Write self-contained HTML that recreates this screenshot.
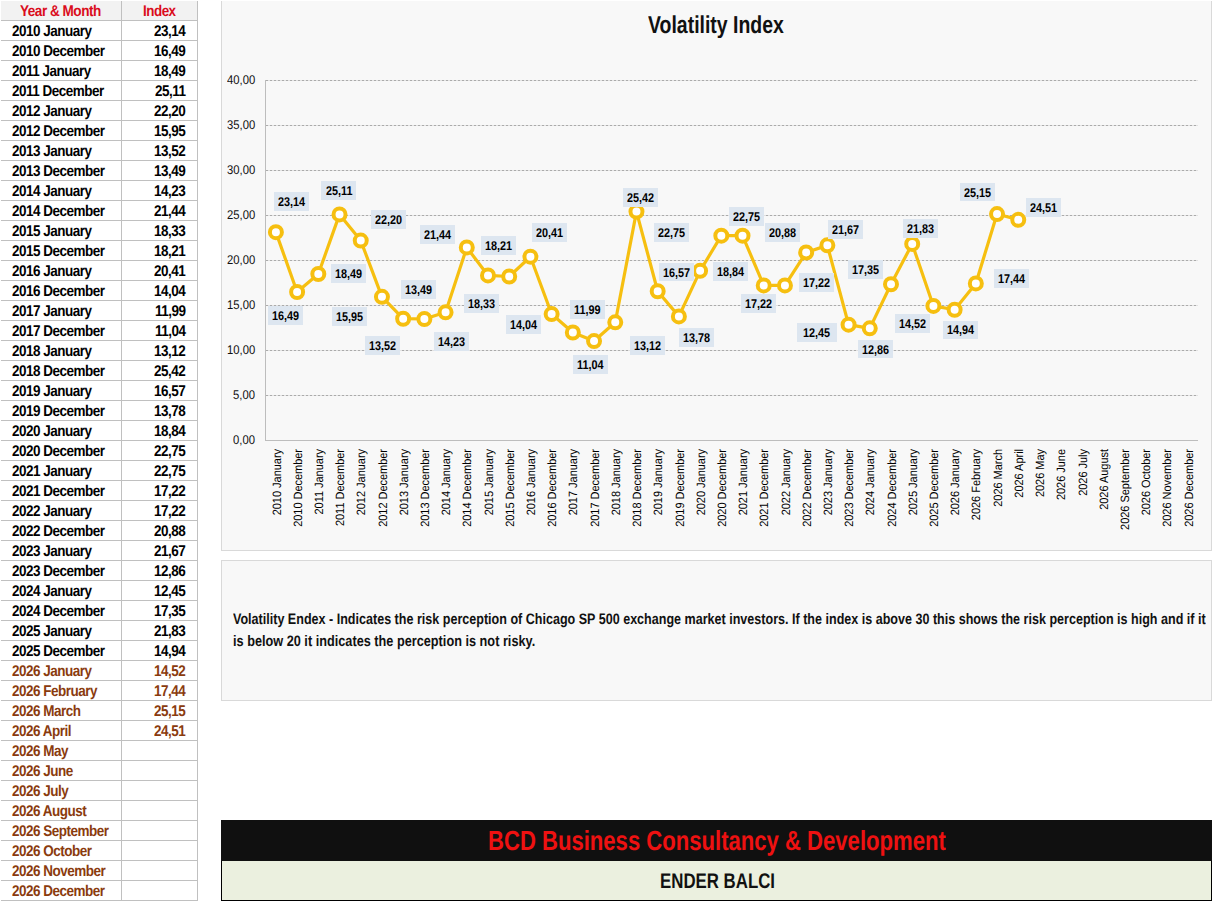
<!DOCTYPE html>
<html><head><meta charset="utf-8"><style>
html,body{margin:0;padding:0;background:#fff;}
body{width:1212px;height:901px;overflow:hidden;position:relative;font-family:"Liberation Sans",sans-serif;text-rendering:geometricPrecision;}
.a{position:absolute;white-space:nowrap;}
.t{position:absolute;white-space:nowrap;font-weight:bold;line-height:1;transform-origin:0 0;}
.hl{position:absolute;height:1px;background:#c0c0c0;}
.vl{position:absolute;width:1px;background:#c0c0c0;}
</style></head><body>

<div class="a" style="left:1px;top:1px;width:196px;height:19px;background:#f2f2f2"></div>
<div class="hl" style="left:1px;top:20px;width:197px"></div>
<div class="hl" style="left:1px;top:40px;width:197px"></div>
<div class="hl" style="left:1px;top:60px;width:197px"></div>
<div class="hl" style="left:1px;top:80px;width:197px"></div>
<div class="hl" style="left:1px;top:100px;width:197px"></div>
<div class="hl" style="left:1px;top:120px;width:197px"></div>
<div class="hl" style="left:1px;top:140px;width:197px"></div>
<div class="hl" style="left:1px;top:160px;width:197px"></div>
<div class="hl" style="left:1px;top:180px;width:197px"></div>
<div class="hl" style="left:1px;top:200px;width:197px"></div>
<div class="hl" style="left:1px;top:220px;width:197px"></div>
<div class="hl" style="left:1px;top:240px;width:197px"></div>
<div class="hl" style="left:1px;top:260px;width:197px"></div>
<div class="hl" style="left:1px;top:280px;width:197px"></div>
<div class="hl" style="left:1px;top:300px;width:197px"></div>
<div class="hl" style="left:1px;top:320px;width:197px"></div>
<div class="hl" style="left:1px;top:340px;width:197px"></div>
<div class="hl" style="left:1px;top:360px;width:197px"></div>
<div class="hl" style="left:1px;top:380px;width:197px"></div>
<div class="hl" style="left:1px;top:400px;width:197px"></div>
<div class="hl" style="left:1px;top:420px;width:197px"></div>
<div class="hl" style="left:1px;top:440px;width:197px"></div>
<div class="hl" style="left:1px;top:460px;width:197px"></div>
<div class="hl" style="left:1px;top:480px;width:197px"></div>
<div class="hl" style="left:1px;top:500px;width:197px"></div>
<div class="hl" style="left:1px;top:520px;width:197px"></div>
<div class="hl" style="left:1px;top:540px;width:197px"></div>
<div class="hl" style="left:1px;top:560px;width:197px"></div>
<div class="hl" style="left:1px;top:580px;width:197px"></div>
<div class="hl" style="left:1px;top:600px;width:197px"></div>
<div class="hl" style="left:1px;top:620px;width:197px"></div>
<div class="hl" style="left:1px;top:640px;width:197px"></div>
<div class="hl" style="left:1px;top:660px;width:197px"></div>
<div class="hl" style="left:1px;top:680px;width:197px"></div>
<div class="hl" style="left:1px;top:700px;width:197px"></div>
<div class="hl" style="left:1px;top:720px;width:197px"></div>
<div class="hl" style="left:1px;top:740px;width:197px"></div>
<div class="hl" style="left:1px;top:760px;width:197px"></div>
<div class="hl" style="left:1px;top:780px;width:197px"></div>
<div class="hl" style="left:1px;top:800px;width:197px"></div>
<div class="hl" style="left:1px;top:820px;width:197px"></div>
<div class="hl" style="left:1px;top:840px;width:197px"></div>
<div class="hl" style="left:1px;top:860px;width:197px"></div>
<div class="hl" style="left:1px;top:880px;width:197px"></div>
<div class="hl" style="left:1px;top:900px;width:197px"></div>
<div class="vl" style="left:121px;top:1px;height:900px"></div>
<div class="vl" style="left:197px;top:1px;height:900px"></div>
<div class="t" style="left:20.41px;top:4.19px;font-size:15.5px;color:#da0c1c;font-weight:bold;letter-spacing:-0.56px;transform:scaleX(0.875)">Year &amp; Month</div>
<div class="t" style="left:143.30px;top:4.19px;font-size:15.5px;color:#da0c1c;font-weight:bold;letter-spacing:-0.56px;transform:scaleX(0.865)">Index</div>
<div class="t" style="left:12.10px;top:23.69px;font-size:15.5px;color:#000;font-weight:bold;letter-spacing:-0.56px;transform:scaleX(0.87);">2010 January</div>
<div class="t" style="left:154.19px;top:23.69px;font-size:15.5px;color:#000;font-weight:bold;letter-spacing:-0.56px;transform:scaleX(0.87)">23,14</div>
<div class="t" style="left:12.10px;top:43.69px;font-size:15.5px;color:#000;font-weight:bold;letter-spacing:-0.56px;transform:scaleX(0.87);">2010 December</div>
<div class="t" style="left:154.19px;top:43.69px;font-size:15.5px;color:#000;font-weight:bold;letter-spacing:-0.56px;transform:scaleX(0.87)">16,49</div>
<div class="t" style="left:12.10px;top:63.69px;font-size:15.5px;color:#000;font-weight:bold;letter-spacing:-0.56px;transform:scaleX(0.87);">2011 January</div>
<div class="t" style="left:154.19px;top:63.69px;font-size:15.5px;color:#000;font-weight:bold;letter-spacing:-0.56px;transform:scaleX(0.87)">18,49</div>
<div class="t" style="left:12.10px;top:83.69px;font-size:15.5px;color:#000;font-weight:bold;letter-spacing:-0.56px;transform:scaleX(0.87);">2011 December</div>
<div class="t" style="left:154.93px;top:83.69px;font-size:15.5px;color:#000;font-weight:bold;letter-spacing:-0.56px;transform:scaleX(0.87)">25,11</div>
<div class="t" style="left:12.10px;top:103.69px;font-size:15.5px;color:#000;font-weight:bold;letter-spacing:-0.56px;transform:scaleX(0.87);">2012 January</div>
<div class="t" style="left:154.19px;top:103.69px;font-size:15.5px;color:#000;font-weight:bold;letter-spacing:-0.56px;transform:scaleX(0.87)">22,20</div>
<div class="t" style="left:12.10px;top:123.69px;font-size:15.5px;color:#000;font-weight:bold;letter-spacing:-0.56px;transform:scaleX(0.87);">2012 December</div>
<div class="t" style="left:154.19px;top:123.69px;font-size:15.5px;color:#000;font-weight:bold;letter-spacing:-0.56px;transform:scaleX(0.87)">15,95</div>
<div class="t" style="left:12.10px;top:143.69px;font-size:15.5px;color:#000;font-weight:bold;letter-spacing:-0.56px;transform:scaleX(0.87);">2013 January</div>
<div class="t" style="left:154.19px;top:143.69px;font-size:15.5px;color:#000;font-weight:bold;letter-spacing:-0.56px;transform:scaleX(0.87)">13,52</div>
<div class="t" style="left:12.10px;top:163.69px;font-size:15.5px;color:#000;font-weight:bold;letter-spacing:-0.56px;transform:scaleX(0.87);">2013 December</div>
<div class="t" style="left:154.19px;top:163.69px;font-size:15.5px;color:#000;font-weight:bold;letter-spacing:-0.56px;transform:scaleX(0.87)">13,49</div>
<div class="t" style="left:12.10px;top:183.69px;font-size:15.5px;color:#000;font-weight:bold;letter-spacing:-0.56px;transform:scaleX(0.87);">2014 January</div>
<div class="t" style="left:154.19px;top:183.69px;font-size:15.5px;color:#000;font-weight:bold;letter-spacing:-0.56px;transform:scaleX(0.87)">14,23</div>
<div class="t" style="left:12.10px;top:203.69px;font-size:15.5px;color:#000;font-weight:bold;letter-spacing:-0.56px;transform:scaleX(0.87);">2014 December</div>
<div class="t" style="left:154.19px;top:203.69px;font-size:15.5px;color:#000;font-weight:bold;letter-spacing:-0.56px;transform:scaleX(0.87)">21,44</div>
<div class="t" style="left:12.10px;top:223.69px;font-size:15.5px;color:#000;font-weight:bold;letter-spacing:-0.56px;transform:scaleX(0.87);">2015 January</div>
<div class="t" style="left:154.19px;top:223.69px;font-size:15.5px;color:#000;font-weight:bold;letter-spacing:-0.56px;transform:scaleX(0.87)">18,33</div>
<div class="t" style="left:12.10px;top:243.69px;font-size:15.5px;color:#000;font-weight:bold;letter-spacing:-0.56px;transform:scaleX(0.87);">2015 December</div>
<div class="t" style="left:154.19px;top:243.69px;font-size:15.5px;color:#000;font-weight:bold;letter-spacing:-0.56px;transform:scaleX(0.87)">18,21</div>
<div class="t" style="left:12.10px;top:263.69px;font-size:15.5px;color:#000;font-weight:bold;letter-spacing:-0.56px;transform:scaleX(0.87);">2016 January</div>
<div class="t" style="left:154.19px;top:263.69px;font-size:15.5px;color:#000;font-weight:bold;letter-spacing:-0.56px;transform:scaleX(0.87)">20,41</div>
<div class="t" style="left:12.10px;top:283.69px;font-size:15.5px;color:#000;font-weight:bold;letter-spacing:-0.56px;transform:scaleX(0.87);">2016 December</div>
<div class="t" style="left:154.19px;top:283.69px;font-size:15.5px;color:#000;font-weight:bold;letter-spacing:-0.56px;transform:scaleX(0.87)">14,04</div>
<div class="t" style="left:12.10px;top:303.69px;font-size:15.5px;color:#000;font-weight:bold;letter-spacing:-0.56px;transform:scaleX(0.87);">2017 January</div>
<div class="t" style="left:154.93px;top:303.69px;font-size:15.5px;color:#000;font-weight:bold;letter-spacing:-0.56px;transform:scaleX(0.87)">11,99</div>
<div class="t" style="left:12.10px;top:323.69px;font-size:15.5px;color:#000;font-weight:bold;letter-spacing:-0.56px;transform:scaleX(0.87);">2017 December</div>
<div class="t" style="left:154.93px;top:323.69px;font-size:15.5px;color:#000;font-weight:bold;letter-spacing:-0.56px;transform:scaleX(0.87)">11,04</div>
<div class="t" style="left:12.10px;top:343.69px;font-size:15.5px;color:#000;font-weight:bold;letter-spacing:-0.56px;transform:scaleX(0.87);">2018 January</div>
<div class="t" style="left:154.19px;top:343.69px;font-size:15.5px;color:#000;font-weight:bold;letter-spacing:-0.56px;transform:scaleX(0.87)">13,12</div>
<div class="t" style="left:12.10px;top:363.69px;font-size:15.5px;color:#000;font-weight:bold;letter-spacing:-0.56px;transform:scaleX(0.87);">2018 December</div>
<div class="t" style="left:154.19px;top:363.69px;font-size:15.5px;color:#000;font-weight:bold;letter-spacing:-0.56px;transform:scaleX(0.87)">25,42</div>
<div class="t" style="left:12.10px;top:383.69px;font-size:15.5px;color:#000;font-weight:bold;letter-spacing:-0.56px;transform:scaleX(0.87);">2019 January</div>
<div class="t" style="left:154.19px;top:383.69px;font-size:15.5px;color:#000;font-weight:bold;letter-spacing:-0.56px;transform:scaleX(0.87)">16,57</div>
<div class="t" style="left:12.10px;top:403.69px;font-size:15.5px;color:#000;font-weight:bold;letter-spacing:-0.56px;transform:scaleX(0.87);">2019 December</div>
<div class="t" style="left:154.19px;top:403.69px;font-size:15.5px;color:#000;font-weight:bold;letter-spacing:-0.56px;transform:scaleX(0.87)">13,78</div>
<div class="t" style="left:12.10px;top:423.69px;font-size:15.5px;color:#000;font-weight:bold;letter-spacing:-0.56px;transform:scaleX(0.87);">2020 January</div>
<div class="t" style="left:154.19px;top:423.69px;font-size:15.5px;color:#000;font-weight:bold;letter-spacing:-0.56px;transform:scaleX(0.87)">18,84</div>
<div class="t" style="left:12.10px;top:443.69px;font-size:15.5px;color:#000;font-weight:bold;letter-spacing:-0.56px;transform:scaleX(0.87);">2020 December</div>
<div class="t" style="left:154.19px;top:443.69px;font-size:15.5px;color:#000;font-weight:bold;letter-spacing:-0.56px;transform:scaleX(0.87)">22,75</div>
<div class="t" style="left:12.10px;top:463.69px;font-size:15.5px;color:#000;font-weight:bold;letter-spacing:-0.56px;transform:scaleX(0.87);">2021 January</div>
<div class="t" style="left:154.19px;top:463.69px;font-size:15.5px;color:#000;font-weight:bold;letter-spacing:-0.56px;transform:scaleX(0.87)">22,75</div>
<div class="t" style="left:12.10px;top:483.69px;font-size:15.5px;color:#000;font-weight:bold;letter-spacing:-0.56px;transform:scaleX(0.87);">2021 December</div>
<div class="t" style="left:154.19px;top:483.69px;font-size:15.5px;color:#000;font-weight:bold;letter-spacing:-0.56px;transform:scaleX(0.87)">17,22</div>
<div class="t" style="left:12.10px;top:503.69px;font-size:15.5px;color:#000;font-weight:bold;letter-spacing:-0.56px;transform:scaleX(0.87);">2022 January</div>
<div class="t" style="left:154.19px;top:503.69px;font-size:15.5px;color:#000;font-weight:bold;letter-spacing:-0.56px;transform:scaleX(0.87)">17,22</div>
<div class="t" style="left:12.10px;top:523.69px;font-size:15.5px;color:#000;font-weight:bold;letter-spacing:-0.56px;transform:scaleX(0.87);">2022 December</div>
<div class="t" style="left:154.19px;top:523.69px;font-size:15.5px;color:#000;font-weight:bold;letter-spacing:-0.56px;transform:scaleX(0.87)">20,88</div>
<div class="t" style="left:12.10px;top:543.69px;font-size:15.5px;color:#000;font-weight:bold;letter-spacing:-0.56px;transform:scaleX(0.87);">2023 January</div>
<div class="t" style="left:154.19px;top:543.69px;font-size:15.5px;color:#000;font-weight:bold;letter-spacing:-0.56px;transform:scaleX(0.87)">21,67</div>
<div class="t" style="left:12.10px;top:563.69px;font-size:15.5px;color:#000;font-weight:bold;letter-spacing:-0.56px;transform:scaleX(0.87);">2023 December</div>
<div class="t" style="left:154.19px;top:563.69px;font-size:15.5px;color:#000;font-weight:bold;letter-spacing:-0.56px;transform:scaleX(0.87)">12,86</div>
<div class="t" style="left:12.10px;top:583.69px;font-size:15.5px;color:#000;font-weight:bold;letter-spacing:-0.56px;transform:scaleX(0.87);">2024 January</div>
<div class="t" style="left:154.19px;top:583.69px;font-size:15.5px;color:#000;font-weight:bold;letter-spacing:-0.56px;transform:scaleX(0.87)">12,45</div>
<div class="t" style="left:12.10px;top:603.69px;font-size:15.5px;color:#000;font-weight:bold;letter-spacing:-0.56px;transform:scaleX(0.87);">2024 December</div>
<div class="t" style="left:154.19px;top:603.69px;font-size:15.5px;color:#000;font-weight:bold;letter-spacing:-0.56px;transform:scaleX(0.87)">17,35</div>
<div class="t" style="left:12.10px;top:623.69px;font-size:15.5px;color:#000;font-weight:bold;letter-spacing:-0.56px;transform:scaleX(0.87);">2025 January</div>
<div class="t" style="left:154.19px;top:623.69px;font-size:15.5px;color:#000;font-weight:bold;letter-spacing:-0.56px;transform:scaleX(0.87)">21,83</div>
<div class="t" style="left:12.10px;top:643.69px;font-size:15.5px;color:#000;font-weight:bold;letter-spacing:-0.56px;transform:scaleX(0.87);">2025 December</div>
<div class="t" style="left:154.19px;top:643.69px;font-size:15.5px;color:#000;font-weight:bold;letter-spacing:-0.56px;transform:scaleX(0.87)">14,94</div>
<div class="t" style="left:12.10px;top:663.69px;font-size:15.5px;color:#8a3b0e;font-weight:bold;letter-spacing:-0.56px;transform:scaleX(0.87);">2026 January</div>
<div class="t" style="left:154.19px;top:663.69px;font-size:15.5px;color:#8a3b0e;font-weight:bold;letter-spacing:-0.56px;transform:scaleX(0.87)">14,52</div>
<div class="t" style="left:12.10px;top:683.69px;font-size:15.5px;color:#8a3b0e;font-weight:bold;letter-spacing:-0.56px;transform:scaleX(0.87);">2026 February</div>
<div class="t" style="left:154.19px;top:683.69px;font-size:15.5px;color:#8a3b0e;font-weight:bold;letter-spacing:-0.56px;transform:scaleX(0.87)">17,44</div>
<div class="t" style="left:12.10px;top:703.69px;font-size:15.5px;color:#8a3b0e;font-weight:bold;letter-spacing:-0.56px;transform:scaleX(0.87);">2026 March</div>
<div class="t" style="left:154.19px;top:703.69px;font-size:15.5px;color:#8a3b0e;font-weight:bold;letter-spacing:-0.56px;transform:scaleX(0.87)">25,15</div>
<div class="t" style="left:12.10px;top:723.69px;font-size:15.5px;color:#8a3b0e;font-weight:bold;letter-spacing:-0.56px;transform:scaleX(0.87);">2026 April</div>
<div class="t" style="left:154.19px;top:723.69px;font-size:15.5px;color:#8a3b0e;font-weight:bold;letter-spacing:-0.56px;transform:scaleX(0.87)">24,51</div>
<div class="t" style="left:12.10px;top:743.69px;font-size:15.5px;color:#8a3b0e;font-weight:bold;letter-spacing:-0.56px;transform:scaleX(0.87);">2026 May</div>
<div class="t" style="left:12.10px;top:763.69px;font-size:15.5px;color:#8a3b0e;font-weight:bold;letter-spacing:-0.56px;transform:scaleX(0.87);">2026 June</div>
<div class="t" style="left:12.10px;top:783.69px;font-size:15.5px;color:#8a3b0e;font-weight:bold;letter-spacing:-0.56px;transform:scaleX(0.87);">2026 July</div>
<div class="t" style="left:12.10px;top:803.69px;font-size:15.5px;color:#8a3b0e;font-weight:bold;letter-spacing:-0.56px;transform:scaleX(0.87);">2026 August</div>
<div class="t" style="left:12.10px;top:823.69px;font-size:15.5px;color:#8a3b0e;font-weight:bold;letter-spacing:-0.56px;transform:scaleX(0.87);">2026 September</div>
<div class="t" style="left:12.10px;top:843.69px;font-size:15.5px;color:#8a3b0e;font-weight:bold;letter-spacing:-0.56px;transform:scaleX(0.87);">2026 October</div>
<div class="t" style="left:12.10px;top:863.69px;font-size:15.5px;color:#8a3b0e;font-weight:bold;letter-spacing:-0.56px;transform:scaleX(0.87);">2026 November</div>
<div class="t" style="left:12.10px;top:883.69px;font-size:15.5px;color:#8a3b0e;font-weight:bold;letter-spacing:-0.56px;transform:scaleX(0.87);">2026 December</div>
<div class="a" style="box-sizing:border-box;left:221px;top:1px;width:991px;height:550px;background:#f8f8f8;border:1px solid #d9d9d9;border-top:none"></div>
<div class="a" style="box-sizing:border-box;left:221px;top:560px;width:991px;height:141px;background:#f8f8f8;border:1px solid #d9d9d9"></div>
<svg class="a" style="left:0;top:0" width="1212" height="901">
<line x1="266" y1="395.5" x2="1198" y2="395.5" stroke="#e2e2e2" stroke-width="1"/>
<line x1="266" y1="395.5" x2="1198" y2="395.5" stroke="#ababab" stroke-width="1" stroke-dasharray="2,2"/>
<line x1="266" y1="350.5" x2="1198" y2="350.5" stroke="#e2e2e2" stroke-width="1"/>
<line x1="266" y1="350.5" x2="1198" y2="350.5" stroke="#ababab" stroke-width="1" stroke-dasharray="2,2"/>
<line x1="266" y1="305.5" x2="1198" y2="305.5" stroke="#e2e2e2" stroke-width="1"/>
<line x1="266" y1="305.5" x2="1198" y2="305.5" stroke="#ababab" stroke-width="1" stroke-dasharray="2,2"/>
<line x1="266" y1="260.5" x2="1198" y2="260.5" stroke="#e2e2e2" stroke-width="1"/>
<line x1="266" y1="260.5" x2="1198" y2="260.5" stroke="#ababab" stroke-width="1" stroke-dasharray="2,2"/>
<line x1="266" y1="215.5" x2="1198" y2="215.5" stroke="#e2e2e2" stroke-width="1"/>
<line x1="266" y1="215.5" x2="1198" y2="215.5" stroke="#ababab" stroke-width="1" stroke-dasharray="2,2"/>
<line x1="266" y1="170.5" x2="1198" y2="170.5" stroke="#e2e2e2" stroke-width="1"/>
<line x1="266" y1="170.5" x2="1198" y2="170.5" stroke="#ababab" stroke-width="1" stroke-dasharray="2,2"/>
<line x1="266" y1="125.5" x2="1198" y2="125.5" stroke="#e2e2e2" stroke-width="1"/>
<line x1="266" y1="125.5" x2="1198" y2="125.5" stroke="#ababab" stroke-width="1" stroke-dasharray="2,2"/>
<line x1="266" y1="80.5" x2="1198" y2="80.5" stroke="#e2e2e2" stroke-width="1"/>
<line x1="266" y1="80.5" x2="1198" y2="80.5" stroke="#ababab" stroke-width="1" stroke-dasharray="2,2"/>
<line x1="265.5" y1="80" x2="265.5" y2="440.5" stroke="#bdbdbd" stroke-width="1"/>
<line x1="265" y1="440.5" x2="1198" y2="440.5" stroke="#bdbdbd" stroke-width="1"/>
<polyline fill="none" stroke="#f6bf10" stroke-width="3.2" stroke-linejoin="round" points="275.90,232.14 297.11,291.99 318.32,273.99 339.53,214.41 360.74,240.60 381.95,296.85 403.16,318.72 424.37,318.99 445.58,312.33 466.79,247.44 488.00,275.43 509.21,276.51 530.42,256.71 551.63,314.04 572.84,332.49 594.05,341.04 615.26,322.32 636.47,211.62 657.68,291.27 678.89,316.38 700.10,270.84 721.31,235.65 742.52,235.65 763.73,285.42 784.94,285.42 806.15,252.48 827.36,245.37 848.57,324.66 869.78,328.35 890.99,284.25 912.20,243.93 933.41,305.94 954.62,309.72 975.83,283.44 997.04,214.05 1018.25,219.81"/>
<circle cx="275.90" cy="232.14" r="6" fill="#fff" stroke="#f6bf10" stroke-width="4"/>
<circle cx="297.11" cy="291.99" r="6" fill="#fff" stroke="#f6bf10" stroke-width="4"/>
<circle cx="318.32" cy="273.99" r="6" fill="#fff" stroke="#f6bf10" stroke-width="4"/>
<circle cx="339.53" cy="214.41" r="6" fill="#fff" stroke="#f6bf10" stroke-width="4"/>
<circle cx="360.74" cy="240.60" r="6" fill="#fff" stroke="#f6bf10" stroke-width="4"/>
<circle cx="381.95" cy="296.85" r="6" fill="#fff" stroke="#f6bf10" stroke-width="4"/>
<circle cx="403.16" cy="318.72" r="6" fill="#fff" stroke="#f6bf10" stroke-width="4"/>
<circle cx="424.37" cy="318.99" r="6" fill="#fff" stroke="#f6bf10" stroke-width="4"/>
<circle cx="445.58" cy="312.33" r="6" fill="#fff" stroke="#f6bf10" stroke-width="4"/>
<circle cx="466.79" cy="247.44" r="6" fill="#fff" stroke="#f6bf10" stroke-width="4"/>
<circle cx="488.00" cy="275.43" r="6" fill="#fff" stroke="#f6bf10" stroke-width="4"/>
<circle cx="509.21" cy="276.51" r="6" fill="#fff" stroke="#f6bf10" stroke-width="4"/>
<circle cx="530.42" cy="256.71" r="6" fill="#fff" stroke="#f6bf10" stroke-width="4"/>
<circle cx="551.63" cy="314.04" r="6" fill="#fff" stroke="#f6bf10" stroke-width="4"/>
<circle cx="572.84" cy="332.49" r="6" fill="#fff" stroke="#f6bf10" stroke-width="4"/>
<circle cx="594.05" cy="341.04" r="6" fill="#fff" stroke="#f6bf10" stroke-width="4"/>
<circle cx="615.26" cy="322.32" r="6" fill="#fff" stroke="#f6bf10" stroke-width="4"/>
<circle cx="636.47" cy="211.62" r="6" fill="#fff" stroke="#f6bf10" stroke-width="4"/>
<circle cx="657.68" cy="291.27" r="6" fill="#fff" stroke="#f6bf10" stroke-width="4"/>
<circle cx="678.89" cy="316.38" r="6" fill="#fff" stroke="#f6bf10" stroke-width="4"/>
<circle cx="700.10" cy="270.84" r="6" fill="#fff" stroke="#f6bf10" stroke-width="4"/>
<circle cx="721.31" cy="235.65" r="6" fill="#fff" stroke="#f6bf10" stroke-width="4"/>
<circle cx="742.52" cy="235.65" r="6" fill="#fff" stroke="#f6bf10" stroke-width="4"/>
<circle cx="763.73" cy="285.42" r="6" fill="#fff" stroke="#f6bf10" stroke-width="4"/>
<circle cx="784.94" cy="285.42" r="6" fill="#fff" stroke="#f6bf10" stroke-width="4"/>
<circle cx="806.15" cy="252.48" r="6" fill="#fff" stroke="#f6bf10" stroke-width="4"/>
<circle cx="827.36" cy="245.37" r="6" fill="#fff" stroke="#f6bf10" stroke-width="4"/>
<circle cx="848.57" cy="324.66" r="6" fill="#fff" stroke="#f6bf10" stroke-width="4"/>
<circle cx="869.78" cy="328.35" r="6" fill="#fff" stroke="#f6bf10" stroke-width="4"/>
<circle cx="890.99" cy="284.25" r="6" fill="#fff" stroke="#f6bf10" stroke-width="4"/>
<circle cx="912.20" cy="243.93" r="6" fill="#fff" stroke="#f6bf10" stroke-width="4"/>
<circle cx="933.41" cy="305.94" r="6" fill="#fff" stroke="#f6bf10" stroke-width="4"/>
<circle cx="954.62" cy="309.72" r="6" fill="#fff" stroke="#f6bf10" stroke-width="4"/>
<circle cx="975.83" cy="283.44" r="6" fill="#fff" stroke="#f6bf10" stroke-width="4"/>
<circle cx="997.04" cy="214.05" r="6" fill="#fff" stroke="#f6bf10" stroke-width="4"/>
<circle cx="1018.25" cy="219.81" r="6" fill="#fff" stroke="#f6bf10" stroke-width="4"/>
</svg>
<div class="t" style="left:232.97px;top:434.24px;font-size:12.6px;color:#111;font-weight:normal;transform:scaleX(0.895)">0,00</div>
<div class="t" style="left:232.97px;top:389.24px;font-size:12.6px;color:#111;font-weight:normal;transform:scaleX(0.895)">5,00</div>
<div class="t" style="left:226.66px;top:344.24px;font-size:12.6px;color:#111;font-weight:normal;transform:scaleX(0.895)">10,00</div>
<div class="t" style="left:226.66px;top:299.24px;font-size:12.6px;color:#111;font-weight:normal;transform:scaleX(0.895)">15,00</div>
<div class="t" style="left:226.66px;top:254.24px;font-size:12.6px;color:#111;font-weight:normal;transform:scaleX(0.895)">20,00</div>
<div class="t" style="left:226.66px;top:209.24px;font-size:12.6px;color:#111;font-weight:normal;transform:scaleX(0.895)">25,00</div>
<div class="t" style="left:226.66px;top:164.24px;font-size:12.6px;color:#111;font-weight:normal;transform:scaleX(0.895)">30,00</div>
<div class="t" style="left:226.66px;top:119.24px;font-size:12.6px;color:#111;font-weight:normal;transform:scaleX(0.895)">35,00</div>
<div class="t" style="left:226.66px;top:74.24px;font-size:12.6px;color:#111;font-weight:normal;transform:scaleX(0.895)">40,00</div>
<div class="a" style="left:270.54px;top:449px;font-size:12px;line-height:1;color:#000;transform-origin:0 0;transform:rotate(-90deg) translateX(-66.32px) scaleX(0.912)">2010 January</div>
<div class="a" style="left:291.75px;top:449px;font-size:12px;line-height:1;color:#000;transform-origin:0 0;transform:rotate(-90deg) translateX(-77.87px) scaleX(0.912)">2010 December</div>
<div class="a" style="left:312.96px;top:449px;font-size:12px;line-height:1;color:#000;transform-origin:0 0;transform:rotate(-90deg) translateX(-65.51px) scaleX(0.912)">2011 January</div>
<div class="a" style="left:334.17px;top:449px;font-size:12px;line-height:1;color:#000;transform-origin:0 0;transform:rotate(-90deg) translateX(-77.06px) scaleX(0.912)">2011 December</div>
<div class="a" style="left:355.38px;top:449px;font-size:12px;line-height:1;color:#000;transform-origin:0 0;transform:rotate(-90deg) translateX(-66.32px) scaleX(0.912)">2012 January</div>
<div class="a" style="left:376.59px;top:449px;font-size:12px;line-height:1;color:#000;transform-origin:0 0;transform:rotate(-90deg) translateX(-77.87px) scaleX(0.912)">2012 December</div>
<div class="a" style="left:397.80px;top:449px;font-size:12px;line-height:1;color:#000;transform-origin:0 0;transform:rotate(-90deg) translateX(-66.32px) scaleX(0.912)">2013 January</div>
<div class="a" style="left:419.01px;top:449px;font-size:12px;line-height:1;color:#000;transform-origin:0 0;transform:rotate(-90deg) translateX(-77.87px) scaleX(0.912)">2013 December</div>
<div class="a" style="left:440.22px;top:449px;font-size:12px;line-height:1;color:#000;transform-origin:0 0;transform:rotate(-90deg) translateX(-66.32px) scaleX(0.912)">2014 January</div>
<div class="a" style="left:461.43px;top:449px;font-size:12px;line-height:1;color:#000;transform-origin:0 0;transform:rotate(-90deg) translateX(-77.87px) scaleX(0.912)">2014 December</div>
<div class="a" style="left:482.64px;top:449px;font-size:12px;line-height:1;color:#000;transform-origin:0 0;transform:rotate(-90deg) translateX(-66.32px) scaleX(0.912)">2015 January</div>
<div class="a" style="left:503.85px;top:449px;font-size:12px;line-height:1;color:#000;transform-origin:0 0;transform:rotate(-90deg) translateX(-77.87px) scaleX(0.912)">2015 December</div>
<div class="a" style="left:525.06px;top:449px;font-size:12px;line-height:1;color:#000;transform-origin:0 0;transform:rotate(-90deg) translateX(-66.32px) scaleX(0.912)">2016 January</div>
<div class="a" style="left:546.27px;top:449px;font-size:12px;line-height:1;color:#000;transform-origin:0 0;transform:rotate(-90deg) translateX(-77.87px) scaleX(0.912)">2016 December</div>
<div class="a" style="left:567.48px;top:449px;font-size:12px;line-height:1;color:#000;transform-origin:0 0;transform:rotate(-90deg) translateX(-66.32px) scaleX(0.912)">2017 January</div>
<div class="a" style="left:588.69px;top:449px;font-size:12px;line-height:1;color:#000;transform-origin:0 0;transform:rotate(-90deg) translateX(-77.87px) scaleX(0.912)">2017 December</div>
<div class="a" style="left:609.90px;top:449px;font-size:12px;line-height:1;color:#000;transform-origin:0 0;transform:rotate(-90deg) translateX(-66.32px) scaleX(0.912)">2018 January</div>
<div class="a" style="left:631.11px;top:449px;font-size:12px;line-height:1;color:#000;transform-origin:0 0;transform:rotate(-90deg) translateX(-77.87px) scaleX(0.912)">2018 December</div>
<div class="a" style="left:652.32px;top:449px;font-size:12px;line-height:1;color:#000;transform-origin:0 0;transform:rotate(-90deg) translateX(-66.32px) scaleX(0.912)">2019 January</div>
<div class="a" style="left:673.53px;top:449px;font-size:12px;line-height:1;color:#000;transform-origin:0 0;transform:rotate(-90deg) translateX(-77.87px) scaleX(0.912)">2019 December</div>
<div class="a" style="left:694.74px;top:449px;font-size:12px;line-height:1;color:#000;transform-origin:0 0;transform:rotate(-90deg) translateX(-66.32px) scaleX(0.912)">2020 January</div>
<div class="a" style="left:715.95px;top:449px;font-size:12px;line-height:1;color:#000;transform-origin:0 0;transform:rotate(-90deg) translateX(-77.87px) scaleX(0.912)">2020 December</div>
<div class="a" style="left:737.16px;top:449px;font-size:12px;line-height:1;color:#000;transform-origin:0 0;transform:rotate(-90deg) translateX(-66.32px) scaleX(0.912)">2021 January</div>
<div class="a" style="left:758.37px;top:449px;font-size:12px;line-height:1;color:#000;transform-origin:0 0;transform:rotate(-90deg) translateX(-77.87px) scaleX(0.912)">2021 December</div>
<div class="a" style="left:779.58px;top:449px;font-size:12px;line-height:1;color:#000;transform-origin:0 0;transform:rotate(-90deg) translateX(-66.32px) scaleX(0.912)">2022 January</div>
<div class="a" style="left:800.79px;top:449px;font-size:12px;line-height:1;color:#000;transform-origin:0 0;transform:rotate(-90deg) translateX(-77.87px) scaleX(0.912)">2022 December</div>
<div class="a" style="left:822.00px;top:449px;font-size:12px;line-height:1;color:#000;transform-origin:0 0;transform:rotate(-90deg) translateX(-66.32px) scaleX(0.912)">2023 January</div>
<div class="a" style="left:843.21px;top:449px;font-size:12px;line-height:1;color:#000;transform-origin:0 0;transform:rotate(-90deg) translateX(-77.87px) scaleX(0.912)">2023 December</div>
<div class="a" style="left:864.42px;top:449px;font-size:12px;line-height:1;color:#000;transform-origin:0 0;transform:rotate(-90deg) translateX(-66.32px) scaleX(0.912)">2024 January</div>
<div class="a" style="left:885.63px;top:449px;font-size:12px;line-height:1;color:#000;transform-origin:0 0;transform:rotate(-90deg) translateX(-77.87px) scaleX(0.912)">2024 December</div>
<div class="a" style="left:906.84px;top:449px;font-size:12px;line-height:1;color:#000;transform-origin:0 0;transform:rotate(-90deg) translateX(-66.32px) scaleX(0.912)">2025 January</div>
<div class="a" style="left:928.05px;top:449px;font-size:12px;line-height:1;color:#000;transform-origin:0 0;transform:rotate(-90deg) translateX(-77.87px) scaleX(0.912)">2025 December</div>
<div class="a" style="left:949.26px;top:449px;font-size:12px;line-height:1;color:#000;transform-origin:0 0;transform:rotate(-90deg) translateX(-66.32px) scaleX(0.912)">2026 January</div>
<div class="a" style="left:970.47px;top:449px;font-size:12px;line-height:1;color:#000;transform-origin:0 0;transform:rotate(-90deg) translateX(-71.18px) scaleX(0.912)">2026 February</div>
<div class="a" style="left:991.68px;top:449px;font-size:12px;line-height:1;color:#000;transform-origin:0 0;transform:rotate(-90deg) translateX(-57.79px) scaleX(0.912)">2026 March</div>
<div class="a" style="left:1012.89px;top:449px;font-size:12px;line-height:1;color:#000;transform-origin:0 0;transform:rotate(-90deg) translateX(-48.68px) scaleX(0.912)">2026 April</div>
<div class="a" style="left:1034.10px;top:449px;font-size:12px;line-height:1;color:#000;transform-origin:0 0;transform:rotate(-90deg) translateX(-48.06px) scaleX(0.912)">2026 May</div>
<div class="a" style="left:1055.31px;top:449px;font-size:12px;line-height:1;color:#000;transform-origin:0 0;transform:rotate(-90deg) translateX(-51.12px) scaleX(0.912)">2026 June</div>
<div class="a" style="left:1076.52px;top:449px;font-size:12px;line-height:1;color:#000;transform-origin:0 0;transform:rotate(-90deg) translateX(-46.85px) scaleX(0.912)">2026 July</div>
<div class="a" style="left:1097.73px;top:449px;font-size:12px;line-height:1;color:#000;transform-origin:0 0;transform:rotate(-90deg) translateX(-60.85px) scaleX(0.912)">2026 August</div>
<div class="a" style="left:1118.94px;top:449px;font-size:12px;line-height:1;color:#000;transform-origin:0 0;transform:rotate(-90deg) translateX(-80.92px) scaleX(0.912)">2026 September</div>
<div class="a" style="left:1140.15px;top:449px;font-size:12px;line-height:1;color:#000;transform-origin:0 0;transform:rotate(-90deg) translateX(-66.32px) scaleX(0.912)">2026 October</div>
<div class="a" style="left:1161.36px;top:449px;font-size:12px;line-height:1;color:#000;transform-origin:0 0;transform:rotate(-90deg) translateX(-77.87px) scaleX(0.912)">2026 November</div>
<div class="a" style="left:1182.57px;top:449px;font-size:12px;line-height:1;color:#000;transform-origin:0 0;transform:rotate(-90deg) translateX(-77.87px) scaleX(0.912)">2026 December</div>
<div class="a" style="left:274.2px;top:192.0px;width:35px;height:18.7px;background:#dde6f0"></div>
<div class="t" style="left:278.11px;top:195.96px;font-size:12.7px;color:#000;font-weight:bold;transform:scaleX(0.855)">23,14</div>
<div class="a" style="left:268.2px;top:306.3px;width:35px;height:18.7px;background:#dde6f0"></div>
<div class="t" style="left:272.11px;top:310.26px;font-size:12.7px;color:#000;font-weight:bold;transform:scaleX(0.855)">16,49</div>
<div class="a" style="left:321.3px;top:181.1px;width:35px;height:18.7px;background:#dde6f0"></div>
<div class="t" style="left:325.50px;top:185.06px;font-size:12.7px;color:#000;font-weight:bold;transform:scaleX(0.855)">25,11</div>
<div class="a" style="left:331.0px;top:264.3px;width:35px;height:18.7px;background:#dde6f0"></div>
<div class="t" style="left:334.91px;top:268.26px;font-size:12.7px;color:#000;font-weight:bold;transform:scaleX(0.855)">18,49</div>
<div class="a" style="left:371.0px;top:210.4px;width:35px;height:18.7px;background:#dde6f0"></div>
<div class="t" style="left:374.91px;top:214.36px;font-size:12.7px;color:#000;font-weight:bold;transform:scaleX(0.855)">22,20</div>
<div class="a" style="left:332.1px;top:307.0px;width:35px;height:18.7px;background:#dde6f0"></div>
<div class="t" style="left:336.01px;top:310.96px;font-size:12.7px;color:#000;font-weight:bold;transform:scaleX(0.855)">15,95</div>
<div class="a" style="left:364.8px;top:336.0px;width:35px;height:18.7px;background:#dde6f0"></div>
<div class="t" style="left:368.71px;top:339.96px;font-size:12.7px;color:#000;font-weight:bold;transform:scaleX(0.855)">13,52</div>
<div class="a" style="left:401.0px;top:280.1px;width:35px;height:18.7px;background:#dde6f0"></div>
<div class="t" style="left:404.91px;top:284.06px;font-size:12.7px;color:#000;font-weight:bold;transform:scaleX(0.855)">13,49</div>
<div class="a" style="left:420.0px;top:225.0px;width:35px;height:18.7px;background:#dde6f0"></div>
<div class="t" style="left:423.91px;top:228.96px;font-size:12.7px;color:#000;font-weight:bold;transform:scaleX(0.855)">21,44</div>
<div class="a" style="left:434.2px;top:332.3px;width:35px;height:18.7px;background:#dde6f0"></div>
<div class="t" style="left:438.11px;top:336.26px;font-size:12.7px;color:#000;font-weight:bold;transform:scaleX(0.855)">14,23</div>
<div class="a" style="left:464.0px;top:294.2px;width:35px;height:18.7px;background:#dde6f0"></div>
<div class="t" style="left:467.91px;top:298.16px;font-size:12.7px;color:#000;font-weight:bold;transform:scaleX(0.855)">18,33</div>
<div class="a" style="left:481.3px;top:236.0px;width:35px;height:18.7px;background:#dde6f0"></div>
<div class="t" style="left:485.21px;top:239.96px;font-size:12.7px;color:#000;font-weight:bold;transform:scaleX(0.855)">18,21</div>
<div class="a" style="left:532.3px;top:223.2px;width:35px;height:18.7px;background:#dde6f0"></div>
<div class="t" style="left:536.21px;top:227.16px;font-size:12.7px;color:#000;font-weight:bold;transform:scaleX(0.855)">20,41</div>
<div class="a" style="left:506.1px;top:315.4px;width:35px;height:18.7px;background:#dde6f0"></div>
<div class="t" style="left:510.01px;top:319.36px;font-size:12.7px;color:#000;font-weight:bold;transform:scaleX(0.855)">14,04</div>
<div class="a" style="left:570.1px;top:300.3px;width:35px;height:18.7px;background:#dde6f0"></div>
<div class="t" style="left:574.30px;top:304.26px;font-size:12.7px;color:#000;font-weight:bold;transform:scaleX(0.855)">11,99</div>
<div class="a" style="left:573.1px;top:355.3px;width:35px;height:18.7px;background:#dde6f0"></div>
<div class="t" style="left:577.30px;top:359.26px;font-size:12.7px;color:#000;font-weight:bold;transform:scaleX(0.855)">11,04</div>
<div class="a" style="left:623.3px;top:188.2px;width:35px;height:18.7px;background:#dde6f0"></div>
<div class="t" style="left:627.21px;top:192.16px;font-size:12.7px;color:#000;font-weight:bold;transform:scaleX(0.855)">25,42</div>
<div class="a" style="left:630.0px;top:336.0px;width:35px;height:18.7px;background:#dde6f0"></div>
<div class="t" style="left:633.91px;top:339.96px;font-size:12.7px;color:#000;font-weight:bold;transform:scaleX(0.855)">13,12</div>
<div class="a" style="left:653.9px;top:223.3px;width:35px;height:18.7px;background:#dde6f0"></div>
<div class="t" style="left:657.81px;top:227.26px;font-size:12.7px;color:#000;font-weight:bold;transform:scaleX(0.855)">22,75</div>
<div class="a" style="left:658.8px;top:262.6px;width:35px;height:18.7px;background:#dde6f0"></div>
<div class="t" style="left:662.71px;top:266.56px;font-size:12.7px;color:#000;font-weight:bold;transform:scaleX(0.855)">16,57</div>
<div class="a" style="left:679.2px;top:328.0px;width:35px;height:18.7px;background:#dde6f0"></div>
<div class="t" style="left:683.11px;top:331.96px;font-size:12.7px;color:#000;font-weight:bold;transform:scaleX(0.855)">13,78</div>
<div class="a" style="left:713.2px;top:262.1px;width:35px;height:18.7px;background:#dde6f0"></div>
<div class="t" style="left:717.11px;top:266.06px;font-size:12.7px;color:#000;font-weight:bold;transform:scaleX(0.855)">18,84</div>
<div class="a" style="left:729.2px;top:207.3px;width:35px;height:18.7px;background:#dde6f0"></div>
<div class="t" style="left:733.11px;top:211.26px;font-size:12.7px;color:#000;font-weight:bold;transform:scaleX(0.855)">22,75</div>
<div class="a" style="left:741.0px;top:294.3px;width:35px;height:18.7px;background:#dde6f0"></div>
<div class="t" style="left:744.91px;top:298.26px;font-size:12.7px;color:#000;font-weight:bold;transform:scaleX(0.855)">17,22</div>
<div class="a" style="left:765.4px;top:223.3px;width:35px;height:18.7px;background:#dde6f0"></div>
<div class="t" style="left:769.31px;top:227.26px;font-size:12.7px;color:#000;font-weight:bold;transform:scaleX(0.855)">20,88</div>
<div class="a" style="left:798.9px;top:273.2px;width:35px;height:18.7px;background:#dde6f0"></div>
<div class="t" style="left:802.81px;top:277.16px;font-size:12.7px;color:#000;font-weight:bold;transform:scaleX(0.855)">17,22</div>
<div class="a" style="left:827.7px;top:220.0px;width:35px;height:18.7px;background:#dde6f0"></div>
<div class="t" style="left:831.61px;top:223.96px;font-size:12.7px;color:#000;font-weight:bold;transform:scaleX(0.855)">21,67</div>
<div class="a" style="left:797.2px;top:323.1px;width:39.6px;height:18.7px;background:#dde6f0"></div>
<div class="t" style="left:803.11px;top:327.06px;font-size:12.7px;color:#000;font-weight:bold;transform:scaleX(0.855)">12,45</div>
<div class="a" style="left:847.7px;top:259.9px;width:35px;height:18.7px;background:#dde6f0"></div>
<div class="t" style="left:851.61px;top:263.86px;font-size:12.7px;color:#000;font-weight:bold;transform:scaleX(0.855)">17,35</div>
<div class="a" style="left:858.1px;top:339.8px;width:35px;height:18.7px;background:#dde6f0"></div>
<div class="t" style="left:862.01px;top:343.76px;font-size:12.7px;color:#000;font-weight:bold;transform:scaleX(0.855)">12,86</div>
<div class="a" style="left:903.2px;top:219.3px;width:35px;height:18.7px;background:#dde6f0"></div>
<div class="t" style="left:907.11px;top:223.26px;font-size:12.7px;color:#000;font-weight:bold;transform:scaleX(0.855)">21,83</div>
<div class="a" style="left:895.0px;top:314.3px;width:35px;height:18.7px;background:#dde6f0"></div>
<div class="t" style="left:898.91px;top:318.26px;font-size:12.7px;color:#000;font-weight:bold;transform:scaleX(0.855)">14,52</div>
<div class="a" style="left:943.2px;top:320.5px;width:35px;height:18.7px;background:#dde6f0"></div>
<div class="t" style="left:947.11px;top:324.46px;font-size:12.7px;color:#000;font-weight:bold;transform:scaleX(0.855)">14,94</div>
<div class="a" style="left:959.9px;top:182.8px;width:35px;height:18.7px;background:#dde6f0"></div>
<div class="t" style="left:963.81px;top:186.76px;font-size:12.7px;color:#000;font-weight:bold;transform:scaleX(0.855)">25,15</div>
<div class="a" style="left:994.2px;top:269.1px;width:35px;height:18.7px;background:#dde6f0"></div>
<div class="t" style="left:998.11px;top:273.06px;font-size:12.7px;color:#000;font-weight:bold;transform:scaleX(0.855)">17,44</div>
<div class="a" style="left:1026.1px;top:198.1px;width:35px;height:18.7px;background:#dde6f0"></div>
<div class="t" style="left:1030.01px;top:202.06px;font-size:12.7px;color:#000;font-weight:bold;transform:scaleX(0.855)">24,51</div>
<div class="t" style="left:648.30px;top:14.27px;font-size:24.5px;color:#111;font-weight:bold;transform:scaleX(0.7943);">Volatility Index</div>
<div class="t" style="left:233.30px;top:612.44px;font-size:15.2px;color:#111;font-weight:bold;transform:scaleX(0.8265);">Volatility Endex - Indicates the risk perception of Chicago SP 500 exchange market investors. If the index is above 30 this shows the risk perception is high and if it</div>
<div class="t" style="left:232.60px;top:633.74px;font-size:15.2px;color:#111;font-weight:bold;transform:scaleX(0.8372);">is below 20 it indicates the perception is not risky.</div>
<div class="a" style="left:221px;top:820px;width:991px;height:41px;background:#101010"></div>
<div class="a" style="box-sizing:border-box;left:221px;top:861px;width:991px;height:40px;background:#ebf0df;border:1px solid #000;border-top:none"></div>
<div class="t" style="left:487.50px;top:827.25px;font-size:27.6px;color:#ee1111;font-weight:bold;transform:scaleX(0.8004);">BCD Business Consultancy &amp; Development</div>
<div class="t" style="left:659.60px;top:871.36px;font-size:21.2px;color:#111;font-weight:bold;transform:scaleX(0.7943);">ENDER BALCI</div>
</body></html>
